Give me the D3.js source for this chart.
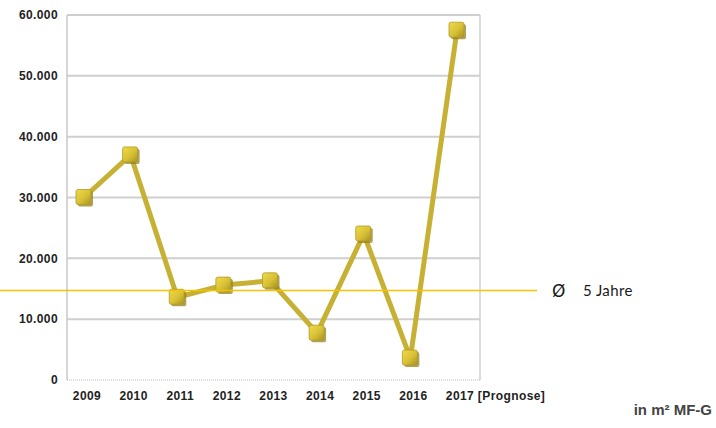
<!DOCTYPE html>
<html>
<head>
<meta charset="utf-8">
<script src="https://cdn.jsdelivr.net/npm/d3@7"></script>
<style>
  body { margin: 0; background: #fff; }
  svg { display: block; }
</style>
</head>
<body>
<svg id="canvas" width="716" height="428"></svg>
<script>
// data
var years = ['2009', '2010', '2011', '2012', '2013', '2014', '2015', '2016', '2017'];
var areas = [30000, 37000, 13600, 15600, 16300, 7700, 24000, 3600, 57500];
var yTicks = [0, 10000, 20000, 30000, 40000, 50000, 60000];
var average = 14700;
var avgLabel = '5 Jahre';
var prognoseSuffix = ' [Prognose]';
var unitLabel = 'in m² MF-G';

var svg = d3.select('#canvas');
var plot = { left: 67, right: 480, top: 15, bottom: 380 };

var x = d3.scalePoint().domain(years).range([84, 457]);
var y = d3.scaleLinear().domain([0, 60000]).range([plot.bottom, plot.top]);
var fmt = function(d){ return d3.format(',')(d).replace(/,/g, '.'); };

// gradient for the little 3d squares
var defs = svg.append('defs');
var grad = defs.append('linearGradient').attr('id', 'markerGrad')
  .attr('x1', '0').attr('y1', '0').attr('x2', '1').attr('y2', '1');
grad.append('stop').attr('offset', '0%').attr('stop-color', '#f0da48');
grad.append('stop').attr('offset', '55%').attr('stop-color', '#d7c036');
grad.append('stop').attr('offset', '100%').attr('stop-color', '#a89222');

// grid
svg.append('g').selectAll('line').data(yTicks.filter(function(d){ return d > 0; }))
  .join('line')
  .attr('x1', plot.left).attr('x2', plot.right)
  .attr('y1', function(d){ return y(d); }).attr('y2', function(d){ return y(d); })
  .attr('stroke', '#cfcfcf').attr('stroke-width', 2);

// frame
svg.append('line').attr('x1', plot.left).attr('x2', plot.left).attr('y1', plot.top).attr('y2', plot.bottom)
  .attr('stroke', '#c8c8c8').attr('stroke-width', 1.5);
svg.append('line').attr('x1', plot.right).attr('x2', plot.right).attr('y1', plot.top).attr('y2', plot.bottom)
  .attr('stroke', '#d0d0d0').attr('stroke-width', 1.5);
svg.append('line').attr('x1', plot.left).attr('x2', plot.right).attr('y1', plot.bottom).attr('y2', plot.bottom)
  .attr('stroke', '#bbb').attr('stroke-width', 1).attr('stroke-dasharray', '1,1');

var labelFont = function(sel){
  sel.style('font-family', 'Liberation Sans, Arial, sans-serif').style('font-weight', 'bold')
    .style('font-size', '12px').style('letter-spacing', '0.4px').style('fill', '#222');
};

// y labels
svg.append('g').selectAll('text').data(yTicks).join('text')
  .attr('x', 58).attr('y', function(d){ return y(d); }).attr('dy', '0.35em')
  .attr('text-anchor', 'end')
  .call(labelFont)
  .text(fmt);

// x labels
var xl = svg.append('g').selectAll('text').data(years).join('text')
  .attr('y', 396).attr('dy', '0.35em')
  .call(labelFont)
  .attr('x', function(d){ return x(d) + 3; })
  .attr('text-anchor', 'middle')
  .text(function(d){ return d; });
xl.filter(function(d, i){ return i === years.length - 1; }).each(function(d){
  var t = d3.select(this);
  var w = this.getComputedTextLength();
  t.attr('text-anchor', 'start').attr('x', x(d) + 3 - w / 2);
  t.append('tspan').text(prognoseSuffix);
});

// line
var lineGen = d3.line().x(function(d, i){ return x(years[i]); }).y(function(d){ return y(d); });
svg.append('path').datum(areas).attr('d', lineGen)
  .attr('fill', 'none').attr('stroke', '#c6b134').attr('stroke-width', 5)
  .attr('stroke-linejoin', 'round');

// markers
var mk = svg.append('g').selectAll('g').data(areas).join('g')
  .attr('transform', function(d, i){ return 'translate(' + x(years[i]) + ',' + y(d) + ')'; });
mk.append('rect').attr('x', -6).attr('y', -6).attr('width', 15).attr('height', 15).attr('rx', 2)
  .attr('fill', '#8f7b18').attr('opacity', 0.7);
mk.append('rect').attr('x', -8).attr('y', -8).attr('width', 15).attr('height', 15).attr('rx', 2)
  .attr('fill', 'url(#markerGrad)').attr('stroke', '#b09a24').attr('stroke-width', 0.8);

// average line
svg.append('line').attr('x1', 0).attr('x2', 537)
  .attr('y1', y(average)).attr('y2', y(average))
  .attr('stroke', '#f5c400').attr('stroke-width', 1.5);
svg.append('text').attr('x', 552).attr('y', y(average)).attr('dy', '0.35em')
  .style('font-family', 'DejaVu Sans, sans-serif').style('font-size', '17px').style('fill', '#1a1a1a')
  .text('Ø');
svg.append('text').attr('x', 583).attr('y', y(average)).attr('dy', '0.35em')
  .style('font-family', 'Lato, sans-serif').style('font-size', '15px')
  .style('letter-spacing', '0.4px').style('fill', '#1a1a1a')
  .text(avgLabel);

// unit
svg.append('text').attr('x', 712).attr('y', 410).attr('dy', '0.35em').attr('text-anchor', 'end')
  .style('font-family', 'Liberation Sans, Arial, sans-serif').style('font-size', '15px')
  .style('font-weight', 'bold').style('fill', '#444')
  .text(unitLabel);
</script>
</body>
</html>
